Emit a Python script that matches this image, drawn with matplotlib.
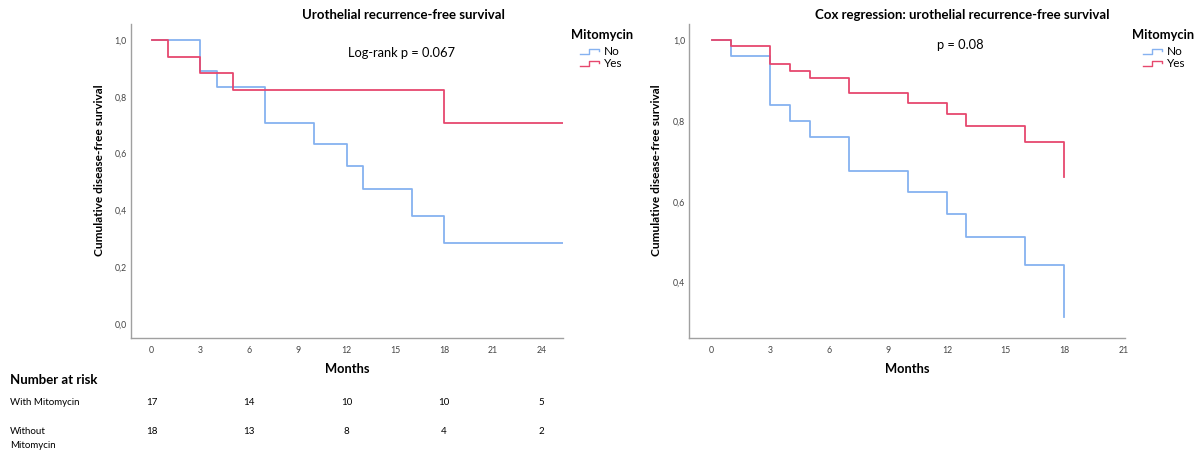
import numpy as np
import matplotlib
matplotlib.use('Agg')
import matplotlib.pyplot as plt
from matplotlib.legend_handler import HandlerBase
from matplotlib.lines import Line2D
import matplotlib.transforms as mtransforms

plt.rcParams['font.family'] = ['Lato', 'DejaVu Sans']

#%% data

# Kaplan-Meier, left panel
km_no_t = [0, 3, 4, 7, 10, 12, 13, 16, 18]
km_no_s = [1.0, 0.889, 0.833, 0.706, 0.635, 0.556, 0.476, 0.381, 0.286]
km_yes_t = [0, 1, 3, 5, 18]
km_yes_s = [1.0, 0.941, 0.882, 0.824, 0.706]
km_end = 25.3   # last follow-up shown

# Cox regression, right panel
cox_t = [0, 1, 3, 4, 5, 7, 10, 12, 13, 16, 18]
cox_no_s = [1.0, 0.960, 0.840, 0.801, 0.761, 0.675, 0.625, 0.571, 0.512, 0.444, 0.316]
cox_yes_s = [1.0, 0.986, 0.940, 0.924, 0.907, 0.869, 0.845, 0.818, 0.787, 0.749, 0.662]

# number at risk table
risk_months = [0, 6, 12, 18, 24]
risk_with = [17, 14, 10, 10, 5]
risk_without = [18, 13, 8, 4, 2]

groups = ['No', 'Yes']
blue = '#86b2f0'
red = '#e6486e'
spine_col = '#a0a0a0'

#%% legend handle that looks like the SPSS step icon
class StepHandler(HandlerBase):
    def create_artists(self, legend, orig_handle, xdescent, ydescent,
                       width, height, fontsize, trans):
        x = np.array([0, 0.45, 0.45, 0.95, 0.95]) * width - xdescent
        y = np.array([0.15, 0.15, 0.75, 0.75, 0.45]) * height - ydescent
        ln = Line2D(x, y, color=orig_handle.get_color(), lw=1.0, transform=trans)
        return [ln]


def style_axes(ax, xticks, yticks, xlim, ylim):
    ax.set_xlim(*xlim)
    ax.set_ylim(*ylim)
    ax.set_xticks(xticks)
    ax.set_yticks(yticks)
    ax.set_yticklabels([('%.1f' % v).replace('.', ',') for v in yticks])
    ax.tick_params(length=0, labelsize=6.3, labelcolor='#444444')
    ax.tick_params(axis='x', pad=6)
    ax.tick_params(axis='y', pad=3)
    for s in ['top', 'right']:
        ax.spines[s].set_visible(False)
    for s in ['left', 'bottom']:
        ax.spines[s].set_color(spine_col)
        ax.spines[s].set_linewidth(1.0)
    ax.set_xlabel('Months', fontsize=9.3, fontweight='bold')
    ax.set_ylabel('Cumulative disease-free survival', fontsize=8.6, fontweight='bold')
    ax.xaxis.label.set_va('center')
    ax.yaxis.label.set_va('center')


def add_legend(handles, title_x, items_x):
    # title as separate text so its gap to the entries matches SPSS
    fig.text(title_x / 1201, 1 - 35 / 457, 'Mitomycin', ha='left', va='center',
             fontsize=9.3, fontweight='bold')
    leg = fig.legend(handles, groups, loc='upper left',
                     bbox_to_anchor=(items_x / 1201, 1 - 46 / 457), frameon=False,
                     handler_map={Line2D: StepHandler()}, fontsize=8.5,
                     handlelength=1.7, handletextpad=0.35, labelspacing=0.1,
                     borderpad=0, borderaxespad=0)
    return leg


fig = plt.figure(figsize=(12.01, 4.57), dpi=100)
ax1 = fig.add_axes([0.1088, 0.2604, 0.3602, 0.6871])
ax2 = fig.add_axes([0.5741, 0.2604, 0.3626, 0.6871])

#%% left: Kaplan-Meier
l_no, = ax1.step(km_no_t + [km_end], km_no_s + [km_no_s[-1]], where='post',
                 color=blue, lw=1.3)
l_yes, = ax1.step(km_yes_t + [km_end], km_yes_s + [km_yes_s[-1]], where='post',
                  color=red, lw=1.3)
style_axes(ax1, np.arange(0, 25, 3), np.arange(0, 1.01, 0.2), (-1.29, 25.33), (-0.049, 1.056))
ax1.xaxis.set_label_coords(0.5, -0.099)
ax1.yaxis.set_label_coords(-0.073, 0.535)
add_legend([l_no, l_yes], 571, 580)

#%% right: Cox regression
r_no, = ax2.step(cox_t, cox_no_s, where='post', color=blue, lw=1.3)
r_yes, = ax2.step(cox_t, cox_yes_s, where='post', color=red, lw=1.3)
style_axes(ax2, np.arange(0, 22, 3), [0.4, 0.6, 0.8, 1.0], (-1.13, 21.09), (0.263, 1.04))
ax2.xaxis.set_label_coords(0.5, -0.099)
ax2.yaxis.set_label_coords(-0.075, 0.535)
add_legend([r_no, r_yes], 1132, 1143)

#%% titles and p-values
fig.text(403 / 1201, 1 - 15 / 457, 'Urothelial recurrence-free survival',
         ha='center', va='center', fontsize=9.5, fontweight='bold')
fig.text(962 / 1201, 1 - 15 / 457, 'Cox regression: urothelial recurrence-free survival',
         ha='center', va='center', fontsize=9.5, fontweight='bold')
fig.text(402 / 1201, 1 - 52.7 / 457, 'Log-rank p = 0.067', ha='center', va='center', fontsize=9.3)
fig.text(960 / 1201, 1 - 45 / 457, 'p = 0.08', ha='center', va='center', fontsize=9.3)

#%% number at risk
tr = mtransforms.blended_transform_factory(ax1.transData, fig.transFigure)
fig.text(10 / 1201, 1 - 380 / 457, 'Number at risk', ha='left', va='center',
         fontsize=9.5, fontweight='bold')
fig.text(10 / 1201, 1 - 402.7 / 457, 'With Mitomycin', ha='left', va='center', fontsize=7)
fig.text(10 / 1201, 1 - 431 / 457, 'Without', ha='left', va='center', fontsize=7)
fig.text(10 / 1201, 1 - 445.7 / 457, 'Mitomycin', ha='left', va='center', fontsize=7)
for m, a, b in zip(risk_months, risk_with, risk_without):
    fig.text(m, 1 - 402.7 / 457, str(a), transform=tr, ha='center', va='center', fontsize=7)
    fig.text(m, 1 - 431 / 457, str(b), transform=tr, ha='center', va='center', fontsize=7)

fig.savefig('out.png', dpi=100)
